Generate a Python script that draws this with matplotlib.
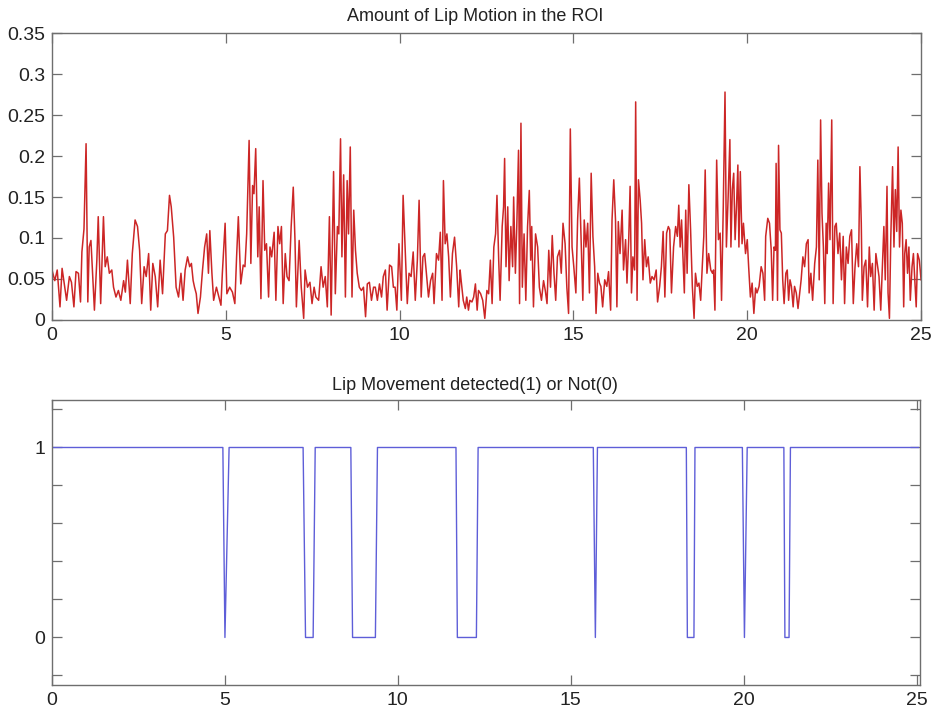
import matplotlib
matplotlib.use("Agg")
import matplotlib.pyplot as plt

plt.rcParams['font.family'] = ['Liberation Sans', 'DejaVu Sans']

# ---- Top panel: amount of lip motion (time in s, value) ----
motion_t = [
    0.00, 0.08, 0.15, 0.23, 0.29, 0.34, 0.42, 0.50, 0.56, 0.63, 0.69, 0.76, 0.82, 0.86, 0.92, 0.98,
    1.03, 1.07, 1.12, 1.22, 1.29, 1.33, 1.40, 1.48, 1.53, 1.59, 1.65, 1.72, 1.77, 1.84, 1.91, 1.98,
    2.06, 2.11, 2.17, 2.25, 2.31, 2.39, 2.46, 2.52, 2.58, 2.65, 2.71, 2.78, 2.84, 2.90, 2.97, 3.04,
    3.11, 3.18, 3.26, 3.32, 3.38, 3.43, 3.50, 3.57, 3.64, 3.71, 3.77, 3.83, 3.90, 3.96, 4.01, 4.06,
    4.10, 4.15, 4.20, 4.27, 4.33, 4.39, 4.45, 4.50, 4.54, 4.60, 4.65, 4.73, 4.80, 4.86,
    4.90, 4.98, 5.03, 5.11, 5.19, 5.26, 5.31, 5.36, 5.43, 5.50, 5.55, 5.60, 5.67, 5.72, 5.77, 5.81,
    5.86, 5.92, 5.96, 6.01, 6.07, 6.12, 6.17, 6.23, 6.27, 6.32, 6.39, 6.44, 6.50, 6.55, 6.60, 6.65,
    6.71, 6.76, 6.82, 6.88, 6.94, 6.99, 7.03, 7.11, 7.17, 7.24, 7.28, 7.35, 7.42, 7.48, 7.54, 7.59,
    7.67, 7.74, 7.80, 7.86, 7.92, 7.98, 8.03, 8.10, 8.15, 8.21, 8.25, 8.30, 8.34, 8.39, 8.44, 8.49,
    8.53, 8.58, 8.63, 8.68, 8.73, 8.78, 8.84, 8.90, 8.96, 9.02, 9.07, 9.13, 9.19, 9.25, 9.30, 9.36,
    9.42, 9.48, 9.53, 9.59, 9.64, 9.71, 9.77, 9.82, 9.87, 9.92, 9.98,
    10.05, 10.10, 10.16, 10.22, 10.27, 10.33, 10.39, 10.45, 10.51, 10.56, 10.62, 10.67, 10.72, 10.77,
    10.83, 10.89, 10.95, 10.99, 11.06, 11.12, 11.17, 11.22, 11.26, 11.31, 11.36, 11.41, 11.46, 11.52,
    11.58, 11.64, 11.70, 11.74, 11.77, 11.83, 11.89, 11.93, 11.98, 12.02, 12.08, 12.13, 12.18, 12.23,
    12.27, 12.33, 12.39, 12.45, 12.51, 12.56, 12.61, 12.66, 12.71, 12.76, 12.80, 12.85, 12.89, 12.95,
    12.99, 13.02, 13.06, 13.11, 13.15, 13.20, 13.25, 13.28, 13.33, 13.37, 13.42, 13.45, 13.49, 13.53,
    13.58, 13.63, 13.68, 13.73, 13.77, 13.80, 13.85, 13.91, 13.97, 14.02, 14.08, 14.14, 14.19, 14.24,
    14.29, 14.34, 14.39, 14.44, 14.49, 14.54, 14.60, 14.65, 14.70, 14.76, 14.81, 14.86, 14.91,
    14.96, 15.01, 15.07, 15.12, 15.17, 15.23, 15.27, 15.31, 15.36, 15.41, 15.46, 15.51, 15.56, 15.61,
    15.65, 15.70, 15.75, 15.79, 15.84, 15.90, 15.96, 16.01, 16.07, 16.11, 16.16, 16.21, 16.25, 16.29,
    16.34, 16.40, 16.44, 16.50, 16.54, 16.59, 16.63, 16.67, 16.71, 16.76, 16.79, 16.83, 16.87, 16.92,
    16.96, 17.00, 17.05, 17.10, 17.15, 17.21, 17.26, 17.32, 17.38, 17.42, 17.48, 17.53, 17.58, 17.63,
    17.68, 17.73, 17.77, 17.82, 17.88, 17.94, 17.99, 18.03, 18.07, 18.11, 18.15, 18.19, 18.23, 18.27,
    18.32, 18.37, 18.42, 18.47, 18.51, 18.56, 18.61, 18.66, 18.71, 18.75, 18.79, 18.84, 18.89, 18.95,
    19.00, 19.03, 19.07, 19.12, 19.17, 19.22, 19.26, 19.31, 19.36, 19.40, 19.45, 19.50, 19.53, 19.57,
    19.61, 19.65, 19.69, 19.73, 19.76, 19.80, 19.85, 19.89,
    19.95, 20.00, 20.04, 20.09, 20.14, 20.19, 20.24, 20.28, 20.34, 20.40, 20.45, 20.50, 20.53, 20.59,
    20.64, 20.69, 20.73, 20.77, 20.81, 20.83, 20.87, 20.90, 20.94, 20.98, 21.02, 21.06, 21.11, 21.15,
    21.19, 21.23, 21.27, 21.32, 21.36, 21.41, 21.46, 21.51, 21.55, 21.60, 21.65, 21.70, 21.75, 21.78,
    21.83, 21.88, 21.94, 21.99, 22.03, 22.07, 22.11, 22.15, 22.19, 22.23, 22.27, 22.30, 22.34, 22.38,
    22.43, 22.47, 22.52, 22.56, 22.61, 22.66, 22.71, 22.76, 22.80, 22.85, 22.90, 22.95, 23.00, 23.05,
    23.10, 23.15, 23.20, 23.24, 23.28, 23.31, 23.36, 23.41, 23.46, 23.51, 23.55, 23.60, 23.65, 23.70,
    23.75, 23.79, 23.84, 23.88, 23.93, 23.97, 24.02, 24.05, 24.09, 24.13, 24.18, 24.22, 24.26, 24.30,
    24.34, 24.38, 24.42, 24.46, 24.50, 24.53, 24.57, 24.61, 24.65, 24.69, 24.74, 24.78, 24.82, 24.86,
    24.90, 24.95, 25.00,
]
motion_v = [
    0.061, 0.048, 0.061, 0.016, 0.063, 0.048, 0.024, 0.053, 0.046, 0.016, 0.059, 0.057, 0.022, 0.083, 0.111, 0.215,
    0.022, 0.089, 0.097, 0.012, 0.073, 0.126, 0.020, 0.126, 0.065, 0.077, 0.057, 0.061, 0.040, 0.028, 0.036, 0.024,
    0.048, 0.034, 0.073, 0.020, 0.081, 0.122, 0.114, 0.085, 0.020, 0.065, 0.053, 0.081, 0.012, 0.069, 0.053, 0.016,
    0.073, 0.032, 0.105, 0.109, 0.152, 0.138, 0.101, 0.040, 0.028, 0.057, 0.024, 0.061, 0.077, 0.065, 0.069, 0.048,
    0.040, 0.032, 0.008, 0.028, 0.061, 0.089, 0.105, 0.057, 0.109, 0.057, 0.024, 0.040, 0.028, 0.018,
    0.057, 0.118, 0.032, 0.040, 0.034, 0.020, 0.077, 0.126, 0.044, 0.067, 0.065, 0.105, 0.219, 0.069, 0.164, 0.154,
    0.209, 0.077, 0.138, 0.026, 0.170, 0.085, 0.093, 0.028, 0.089, 0.077, 0.107, 0.024, 0.114, 0.093, 0.114, 0.020,
    0.081, 0.053, 0.048, 0.114, 0.162, 0.097, 0.016, 0.097, 0.040, 0.002, 0.061, 0.040, 0.046, 0.020, 0.040, 0.028,
    0.024, 0.065, 0.040, 0.053, 0.016, 0.126, 0.006, 0.181, 0.032, 0.114, 0.105, 0.221, 0.077, 0.177, 0.028, 0.170,
    0.105, 0.211, 0.028, 0.134, 0.085, 0.057, 0.040, 0.036, 0.040, 0.004, 0.044, 0.046, 0.024, 0.040, 0.040, 0.024,
    0.044, 0.028, 0.053, 0.061, 0.012, 0.067, 0.065, 0.040, 0.040, 0.012, 0.093,
    0.024, 0.152, 0.085, 0.020, 0.057, 0.053, 0.083, 0.024, 0.073, 0.146, 0.028, 0.077, 0.081, 0.057,
    0.028, 0.048, 0.057, 0.020, 0.081, 0.073, 0.107, 0.024, 0.170, 0.093, 0.105, 0.077, 0.028, 0.081,
    0.101, 0.065, 0.016, 0.061, 0.048, 0.024, 0.014, 0.028, 0.012, 0.024, 0.022, 0.028, 0.044, 0.012,
    0.036, 0.032, 0.024, 0.002, 0.036, 0.032, 0.073, 0.020, 0.089, 0.105, 0.152, 0.073, 0.024, 0.114,
    0.138, 0.197, 0.065, 0.138, 0.048, 0.114, 0.065, 0.150, 0.057, 0.114, 0.207, 0.020, 0.240, 0.040,
    0.105, 0.024, 0.114, 0.158, 0.073, 0.114, 0.016, 0.105, 0.089, 0.040, 0.024, 0.048, 0.036, 0.020,
    0.085, 0.040, 0.103, 0.057, 0.024, 0.077, 0.085, 0.057, 0.118, 0.093, 0.040, 0.008, 0.233,
    0.089, 0.065, 0.033, 0.122, 0.173, 0.081, 0.024, 0.122, 0.089, 0.118, 0.033, 0.179, 0.102, 0.065,
    0.008, 0.057, 0.045, 0.041, 0.016, 0.049, 0.041, 0.059, 0.012, 0.122, 0.171, 0.122, 0.016, 0.120,
    0.081, 0.134, 0.061, 0.098, 0.045, 0.098, 0.163, 0.033, 0.077, 0.061, 0.266, 0.024, 0.171, 0.146,
    0.118, 0.049, 0.098, 0.065, 0.077, 0.045, 0.053, 0.049, 0.061, 0.022, 0.041, 0.065, 0.108, 0.028,
    0.106, 0.114, 0.110, 0.033, 0.089, 0.114, 0.102, 0.140, 0.089, 0.122, 0.077, 0.033, 0.134, 0.057,
    0.165, 0.110, 0.041, 0.002, 0.057, 0.041, 0.045, 0.024, 0.069, 0.102, 0.183, 0.057, 0.081, 0.061,
    0.057, 0.061, 0.012, 0.195, 0.098, 0.106, 0.024, 0.138, 0.278, 0.089, 0.150, 0.220, 0.089, 0.159,
    0.179, 0.098, 0.138, 0.189, 0.089, 0.181, 0.093, 0.118,
    0.081, 0.098, 0.065, 0.028, 0.045, 0.008, 0.039, 0.033, 0.041, 0.065, 0.057, 0.024, 0.102, 0.124,
    0.118, 0.085, 0.024, 0.089, 0.085, 0.191, 0.024, 0.213, 0.110, 0.106, 0.049, 0.020, 0.057, 0.061,
    0.024, 0.049, 0.041, 0.016, 0.041, 0.033, 0.014, 0.033, 0.049, 0.077, 0.065, 0.093, 0.098, 0.033,
    0.057, 0.024, 0.069, 0.089, 0.195, 0.049, 0.244, 0.130, 0.089, 0.020, 0.118, 0.081, 0.167, 0.098,
    0.244, 0.020, 0.114, 0.118, 0.081, 0.106, 0.049, 0.102, 0.020, 0.089, 0.069, 0.102, 0.110, 0.020,
    0.065, 0.093, 0.065, 0.187, 0.118, 0.024, 0.065, 0.073, 0.016, 0.089, 0.053, 0.069, 0.012, 0.081,
    0.065, 0.053, 0.012, 0.057, 0.114, 0.049, 0.163, 0.033, 0.002, 0.102, 0.187, 0.089, 0.159, 0.108,
    0.211, 0.089, 0.134, 0.118, 0.016, 0.081, 0.098, 0.057, 0.089, 0.024, 0.065, 0.081, 0.049, 0.016,
    0.081, 0.073, 0.049,
]

# ---- Bottom panel: lip movement detected (1) or not (0) ----
detect_t = [0.0, 4.94, 5.00, 5.12, 7.26, 7.33, 7.55, 7.61, 8.64, 8.69, 9.35, 9.41,
            11.68, 11.72, 12.27, 12.32, 15.65, 15.71, 15.77, 18.34, 18.37, 18.56, 18.59,
            19.96, 20.02, 20.10, 21.16, 21.19, 21.31, 21.35, 25.05]
detect_v = [1, 1, 0, 1, 1, 0, 0, 1, 1, 0, 0, 1,
            1, 0, 0, 1, 1, 0, 1, 1, 0, 0, 1,
            1, 0, 1, 1, 0, 0, 1, 1]

top_yticks = [0, 0.05, 0.1, 0.15, 0.2, 0.25, 0.3, 0.35]
top_ylabels = ['0', '0.05', '0.1', '0.15', '0.2', '0.25', '0.3', '0.35']
x_ticks = [0, 5, 10, 15, 20, 25]
bot_yticks = [-0.2, 0, 0.2, 0.4, 0.6, 0.8, 1.0, 1.2]
bot_ylabels = ['', '0', '', '', '', '', '1', '']

fig = plt.figure(figsize=(9.37, 7.13), dpi=100)
ax1 = fig.add_axes([0.0555, 0.5512, 0.9275, 0.4025])
ax2 = fig.add_axes([0.0555, 0.0393, 0.9265, 0.3997])

edge = '#6e6e6e'
for ax in (ax1, ax2):
    for s in ax.spines.values():
        s.set_color(edge)
        s.set_linewidth(1.0)
    ax.tick_params(direction='in', length=7, width=0.9, color=edge,
                   top=True, right=True, labelsize=14, labelcolor='#222222', pad=5)

ax1.plot(motion_t, motion_v, color='#cc2626', linewidth=1.1)
ax1.set_xlim(0, 25)
ax1.set_ylim(0, 0.35)
ax1.set_xticks(x_ticks)
ax1.set_xticklabels([str(v) for v in x_ticks])
ax1.set_yticks(top_yticks)
ax1.set_yticklabels(top_ylabels)
ax1.set_title('Amount of Lip Motion in the ROI', fontsize=13, color='#222222', pad=9, x=0.487)

ax2.plot(detect_t, detect_v, color='#5e5ed8', linewidth=1.0)
ax2.set_xlim(0, 25.1)
ax2.set_ylim(-0.25, 1.25)
ax2.set_xticks(x_ticks)
ax2.set_xticklabels([str(v) for v in x_ticks])
ax2.set_yticks(bot_yticks)
ax2.set_yticklabels(bot_ylabels)
ax2.set_title('Lip Movement detected(1) or Not(0)', fontsize=13, color='#222222', pad=7, x=0.487)

fig.savefig('out.png', dpi=100)
